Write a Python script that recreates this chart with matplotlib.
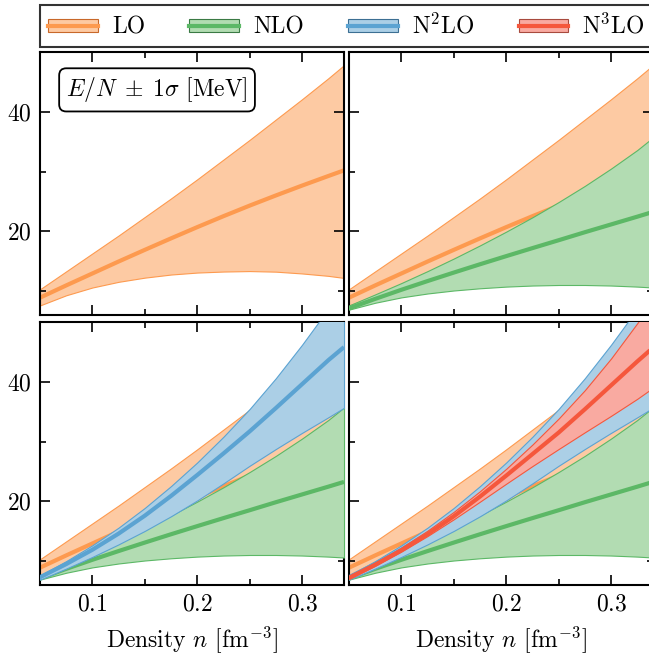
import matplotlib
matplotlib.use("Agg")
import matplotlib.pyplot as plt
import numpy as np
from matplotlib.patches import Patch
from matplotlib.lines import Line2D
from matplotlib.ticker import MultipleLocator

plt.rcParams['font.family'] = 'serif'
plt.rcParams['font.serif'] = ['cmr10']
plt.rcParams['mathtext.fontset'] = 'cm'
plt.rcParams['axes.formatter.use_mathtext'] = True
plt.rcParams['font.size'] = 17

# density grid [fm^-3]
density = [0.05, 0.075, 0.1, 0.125, 0.15, 0.175, 0.2, 0.225, 0.25, 0.275, 0.3, 0.325, 0.34]

# E/N [MeV]: central value and +-1 sigma bounds for each order
lo_mid = [8.9, 10.95, 12.95, 14.95, 16.9, 18.82, 20.7, 22.53, 24.3, 26.0, 27.65, 29.25, 30.2]
lo_lo = [7.6, 9.3, 10.6, 11.55, 12.25, 12.77, 13.1, 13.27, 13.35, 13.25, 12.95, 12.55, 12.2]
lo_hi = [10.3, 13.3, 16.3, 19.3, 22.4, 25.5, 28.7, 32.0, 35.3, 38.7, 42.1, 45.6, 47.8]

nlo_mid = [7.1, 8.7, 10.22, 11.68, 13.1, 14.49, 15.85, 17.19, 18.51, 19.85, 21.15, 22.45, 23.25]
nlo_lo = [6.9, 8.05, 8.95, 9.6, 10.1, 10.47, 10.75, 10.93, 11.02, 11.02, 10.93, 10.75, 10.6]
nlo_hi = [7.6, 9.45, 11.35, 13.35, 15.45, 17.65, 19.95, 22.35, 24.9, 27.6, 30.5, 33.6, 35.7]

n2lo_mid = [7.3, 9.5, 11.9, 14.6, 17.6, 20.9, 24.4, 28.0, 31.7, 35.6, 39.6, 43.6, 45.8]
n2lo_lo = [6.9, 8.75, 10.7, 12.8, 15.05, 17.5, 20.15, 23.0, 25.95, 28.75, 31.45, 34.05, 35.65]
n2lo_hi = [7.6, 10.0, 12.65, 15.6, 18.9, 22.55, 26.5, 30.8, 35.45, 40.6, 46.2, 52.2, 56.0]

n3lo_mid = [7.2, 9.4, 11.8, 14.5, 17.5, 20.8, 24.3, 27.9, 31.5, 35.4, 39.4, 43.4, 45.7]
n3lo_lo = [7.0, 9.2, 11.6, 14.2, 17.0, 19.95, 22.95, 25.9, 28.75, 31.55, 34.3, 37.15, 39.0]
n3lo_hi = [7.4, 9.7, 12.25, 15.1, 18.25, 21.7, 25.45, 29.5, 33.85, 38.6, 43.9, 49.8, 53.6]

labels = ['LO', 'NLO', r'N$^2$LO', r'N$^3$LO']
line_colors = ['#fd9a4f', '#5cb866', '#5ba3d2', '#f5573c']
fill_colors = ['#fdcaa3', '#b2dcb2', '#abcfe6', '#f9aaa1']
edge_colors = ['#c8682a', '#3a7a44', '#3c6f93', '#a84a3e']

orders = [
    (lo_mid, lo_lo, lo_hi),
    (nlo_mid, nlo_lo, nlo_hi),
    (n2lo_mid, n2lo_lo, n2lo_hi),
    (n3lo_mid, n3lo_lo, n3lo_hi),
]

fig = plt.figure(figsize=(6.49, 6.6), dpi=100)
W, H = 649, 660
ax_w, ax_h = 304 / W, 263 / H
lefts = [40 / W, 349 / W]
bottoms = [(H - 315) / H, (H - 585) / H]

axes = []
for row in range(2):
    for col in range(2):
        ax = fig.add_axes([lefts[col], bottoms[row], ax_w, ax_h])
        axes.append(ax)

# each panel adds one more order on top of the previous ones
for k, ax in enumerate(axes):
    for i in range(k + 1):
        mid, lo, hi = orders[i]
        ax.fill_between(density, lo, hi, facecolor=fill_colors[i],
                        edgecolor=line_colors[i], linewidth=0.8, zorder=2 * i + 1)
        ax.plot(density, mid, color=line_colors[i], lw=3.0, zorder=2 * i + 2,
                solid_capstyle='butt')
    ax.set_xlim(0.05, 0.34)
    ax.set_ylim(6, 50)
    ax.xaxis.set_major_locator(MultipleLocator(0.1))
    ax.xaxis.set_minor_locator(MultipleLocator(0.05))
    ax.yaxis.set_major_locator(MultipleLocator(20))
    ax.yaxis.set_minor_locator(MultipleLocator(10))
    ax.tick_params(which='both', direction='in', top=True, right=True, width=1.2)
    ax.tick_params(which='major', length=7.5, labelsize=17, pad=6)
    ax.tick_params(which='minor', length=4.5)
    for sp in ax.spines.values():
        sp.set_linewidth(1.5)
    if k < 2:
        ax.tick_params(labelbottom=False)
    else:
        ax.set_xlabel(r'Density $n$ [fm$^{-3}$]', fontsize=17, labelpad=6)
    if k % 2 == 1:
        ax.tick_params(labelleft=False)

axes[0].text(0.385, 0.856, r'$E/N \;\pm\; 1\sigma$ [MeV]', transform=axes[0].transAxes,
             ha='center', va='center', fontsize=17,
             bbox=dict(boxstyle='round,pad=0.3', fc='white', ec='black', lw=1.3))

handles = []
for i in range(4):
    handles.append((Patch(facecolor=fill_colors[i], edgecolor=edge_colors[i], lw=0.8),
                    Line2D([], [], color=line_colors[i], lw=3.0)))

leg = fig.legend(handles, labels, loc='lower left', ncol=4, mode='expand',
                 bbox_to_anchor=(40 / W, 1 - 47 / H, 613 / W, 44 / H),
                 fontsize=17, frameon=True, fancybox=False, edgecolor='black',
                 handlelength=2.1, handleheight=0.5, handletextpad=0.6,
                 borderaxespad=0.0, borderpad=0.35)
leg.get_frame().set_linewidth(1.5)

fig.savefig('out.png', dpi=100)
